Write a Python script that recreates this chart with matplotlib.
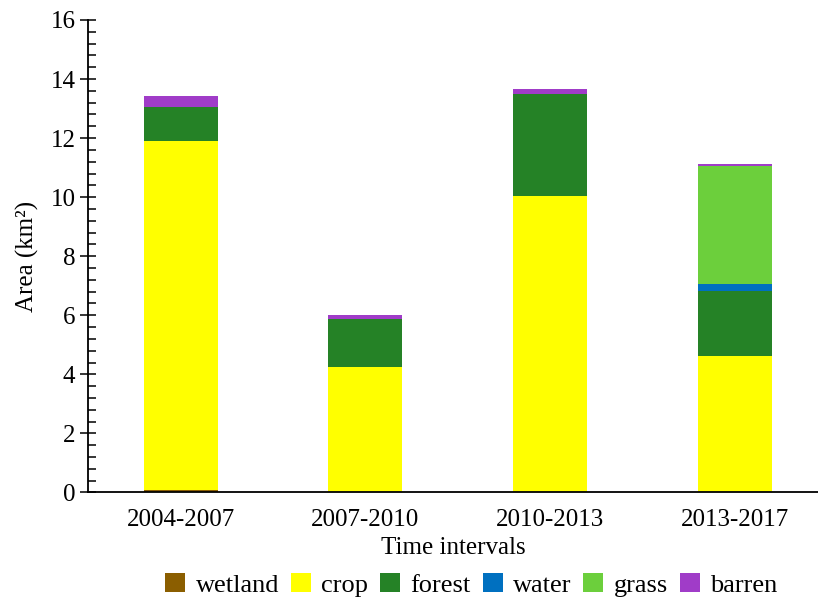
import matplotlib
matplotlib.use("Agg")
import matplotlib.pyplot as plt
import numpy as np
from matplotlib.ticker import MultipleLocator

plt.rcParams.update({
    "font.family": "serif", "font.serif": ["Liberation Serif", "DejaVu Serif"],
    "font.size": 18,
})

intervals = ["2004-2007", "2007-2010", "2010-2013", "2013-2017"]
classes = ["wetland", "crop", "forest", "water", "grass", "barren"]
colors = ["#8B5E00", "#FFFF00", "#258226", "#0070C0", "#6CCF3C", "#A03CC8"]

wetland = [0.10, 0.0, 0.0, 0.0]
crop = [11.80, 4.26, 10.04, 4.63]
forest = [1.15, 1.61, 3.45, 2.19]
water = [0.0, 0.0, 0.0, 0.24]
grass = [0.0, 0.0, 0.0, 3.99]
barren = [0.37, 0.15, 0.17, 0.08]
series = [wetland, crop, forest, water, grass, barren]

fig = plt.figure(figsize=(8.18, 6.05), dpi=100)
ax = fig.add_axes([0.108, 0.186, 0.892, 0.781])

x = np.arange(len(intervals))
bottom = np.zeros(len(intervals))
for name, vals, c in zip(classes, series, colors):
    ax.bar(x, vals, 0.4, bottom=bottom, color=c, label=name)
    bottom += np.array(vals)

ax.set_xlim(-0.5, 3.45)
ax.set_ylim(0, 16)
ax.set_xticks(x)
ax.set_xticklabels(intervals)
ax.yaxis.set_major_locator(MultipleLocator(2))
ax.yaxis.set_minor_locator(MultipleLocator(0.4))
ax.tick_params(axis="x", length=0, pad=12)
ax.tick_params(axis="y", which="major", direction="inout", length=11.5, width=1.1)
ax.tick_params(axis="y", which="minor", direction="in", length=5.8, width=1.1)
for s in ["top", "right"]:
    ax.spines[s].set_visible(False)
for s in ["left", "bottom"]:
    ax.spines[s].set_linewidth(1.3)

ax.set_ylabel("Area (km²)", labelpad=8)
ax.set_xlabel("Time intervals", labelpad=4)
ax.legend(loc="upper center", bbox_to_anchor=(0.525, -0.148), ncol=6, frameon=False,
          fontsize=19, handlelength=0.75, handleheight=0.75, handletextpad=0.4,
          columnspacing=0.45, borderaxespad=0)

fig.savefig("out.png", dpi=100)
